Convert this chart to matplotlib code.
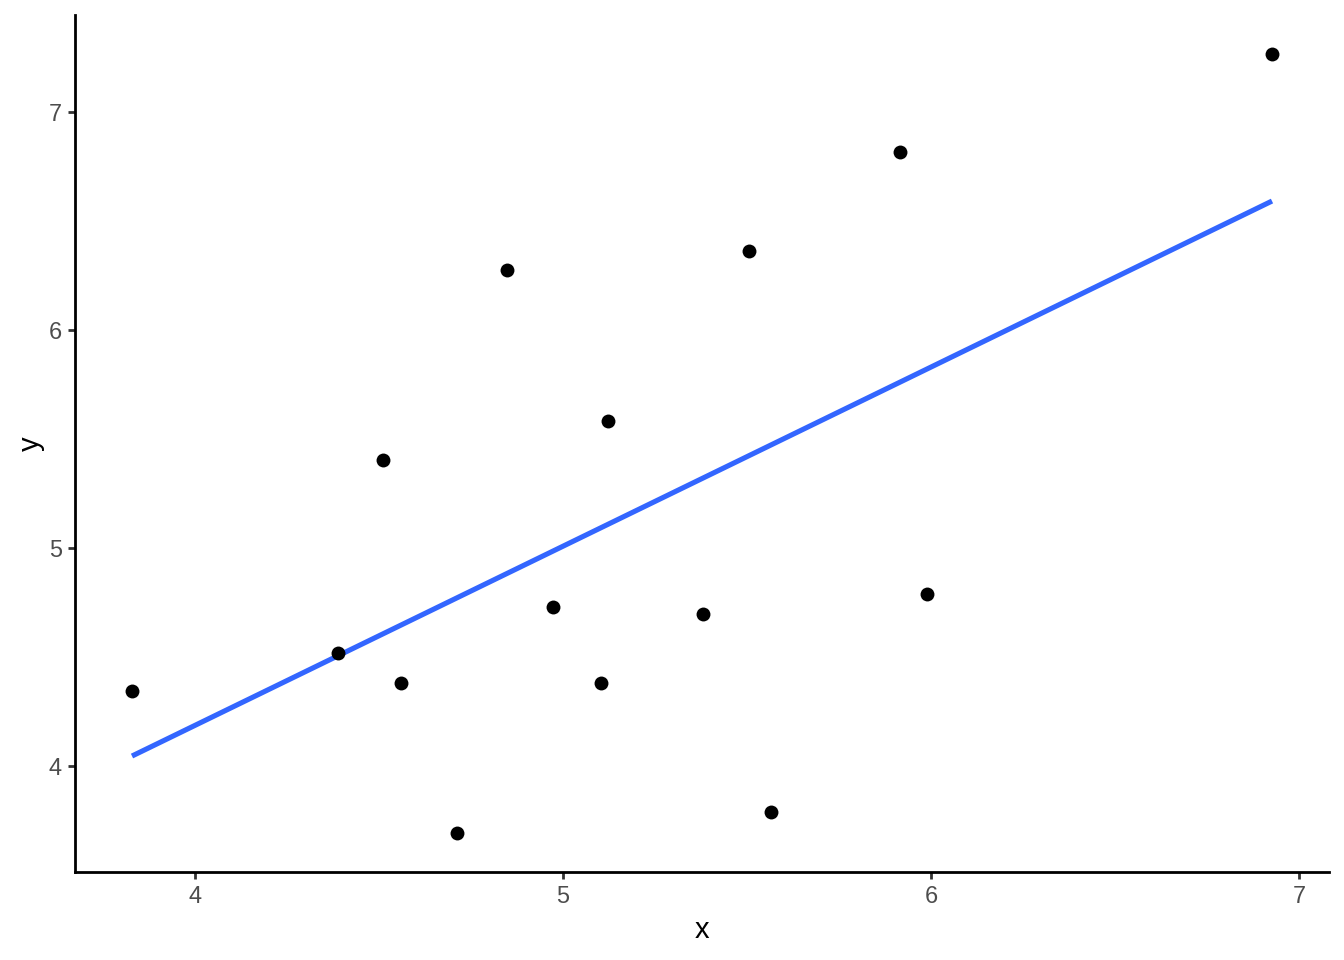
import matplotlib
matplotlib.use("Agg")
import matplotlib.pyplot as plt
import numpy as np

# values
x = [3.829, 4.389, 4.511, 4.560, 4.713, 4.849, 4.974, 5.104, 5.123,
     5.379, 5.504, 5.564, 5.915, 5.988, 6.926]
y = [4.343, 4.521, 5.404, 4.384, 3.694, 6.277, 4.732, 4.380, 5.582,
     4.700, 6.364, 3.790, 6.817, 4.791, 7.265]
xticks = [4, 5, 6, 7]
yticks = [4, 5, 6, 7]

plt.rcParams['font.family'] = ['Liberation Sans', 'DejaVu Sans']

xa = np.array(x)
ya = np.array(y)
slope, icpt = np.polyfit(xa, ya, 1)
xl = np.linspace(xa.min(), xa.max(), 80)

fig = plt.figure(figsize=(13.44, 9.6), dpi=100)
ax = fig.add_axes([75/1344, 1-872/960, (1329-75)/1344, (872-15)/960])

ax.plot(xl, icpt + slope*xl, color='#3366FF', lw=3.7, zorder=2, solid_capstyle='butt')
ax.plot(xa, ya, 'o', color='black', ms=10, mec='none', zorder=3)

xr = xa.max() - xa.min()
yr = ya.max() - ya.min()
ax.set_xlim(xa.min() - 0.05*xr, xa.max() + 0.05*xr)
ax.set_ylim(ya.min() - 0.05*yr, ya.max() + 0.05*yr)
ax.set_xticks(xticks)
ax.set_yticks(yticks)

for s in ['top', 'right']:
    ax.spines[s].set_visible(False)
for s in ['left', 'bottom']:
    ax.spines[s].set_linewidth(2.0)
    ax.spines[s].set_color('black')

ax.tick_params(length=5.3, width=2.0, color='#333333', labelcolor='#4D4D4D',
               labelsize=16.9, pad=4)
ax.set_xlabel('x', fontsize=21, labelpad=6)
ax.set_ylabel('y', fontsize=21, labelpad=3)

fig.savefig('out.png', dpi=100)
